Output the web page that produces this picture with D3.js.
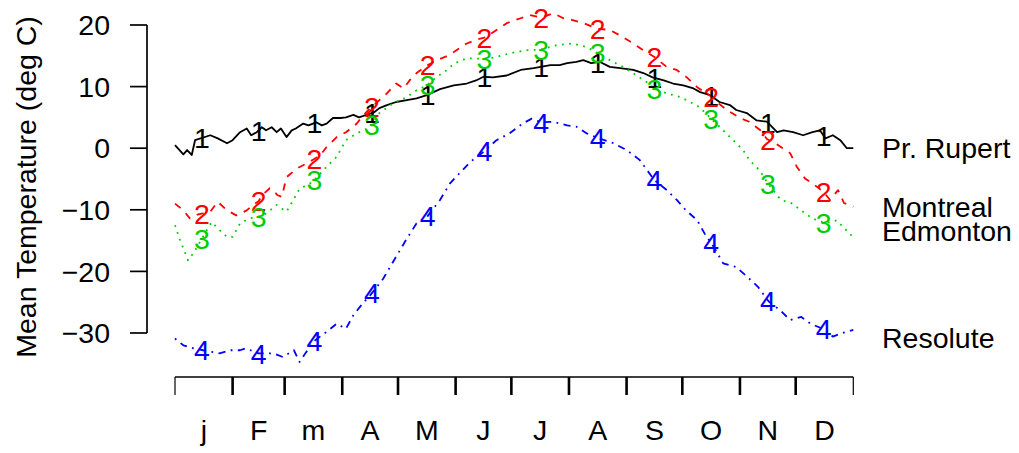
<!DOCTYPE html>
<html>
    <head>
        <title>Mean temperature</title>
        <meta charset="UTF-8">
        <script src="https://cdnjs.cloudflare.com/ajax/libs/d3/7.9.0/d3.min.js"></script>
        <style>
            html, body {
                margin: 0;
                padding: 0;
                background: #fff;
                font-family: 'Liberation Sans', Arial, Helvetica, sans-serif;
            }
        </style>
    </head>
    <body>
        <div class="chart"></div>
        <script>
            // values (day of year, deg C)
            var rupertDays = [0,4.5,6.5,9,10.8,19,23,28,31,35,38.6,41,44,46.7,49,52,54.7,57,60,62.8,65,69,71.8,76,79,81.6,85,89,92,96,99,103,107,110,114,119,124.7,130,135.5,142.6,150,157,162,166,171,178.5,186,193,202,207,211,216,219.7,224,228.7,234,239.5,246.6,252,257,263,268,273.5,279,282.6,288,293,298.6,302,307.7,313,318.5,324,327.5,332.6,338,343,347,350,354,358,361.5,365];
            var rupertTemp = [0.5,-1.0,-0.3,-1.1,1.3,2.1,1.6,0.8,1.3,2.6,3.2,2.1,2.6,3.4,2.9,3.4,2.6,3.2,1.8,2.9,3.2,4.0,3.7,4.2,3.7,4.0,4.9,4.9,5.0,5.4,5.0,5.4,5.8,6.5,7.0,7.5,7.8,8.1,8.6,9.6,10.2,10.5,11.0,11.6,11.5,11.8,12.7,13.0,13.5,13.5,13.8,14.0,14.3,13.8,14.0,13.2,13.0,12.7,12.2,11.5,11.0,10.5,10.2,9.7,9.1,8.6,7.5,7.0,6.2,5.7,4.5,4.3,2.6,2.9,2.6,2.1,2.6,2.9,1.6,2.1,1.3,0,0];

            var montrealDays = [0,4.5,8,12,15,19,23,28,33,38.6,42,45,47,51,53,55,57.5,60,65.5,70,74,78,81.6,87,92,97.8,101,105,110,114,119,123,127,130,135.5,141,146,150,157,162,167,173,178.5,186,191,197,203.6,209,214,220,227,234,239.5,246.6,252,258,264.6,270,275.4,281,288,292,297,304,309,315,318.5,323,327,331,334.6,339,343,346,349,352.5,356.8,360,365];
            var montrealTemp = [-9.0,-10.1,-11.4,-10.8,-10.6,-10.3,-8.7,-10.1,-10.9,-10.1,-9.2,-8.6,-7.6,-6.5,-6.8,-7.6,-7.9,-4.7,-3.3,-2.6,-1.9,-1.2,0.2,1.8,2.6,4.0,5.2,6.5,7.8,8.9,10.5,9.7,11.3,12.2,13.4,14.3,14.9,15.6,17.0,17.6,18.0,19.2,20.3,21.1,21.6,21.2,21.9,21.1,20.8,20.3,19.4,19.2,18.3,17.0,15.9,14.8,13.2,12.7,11.5,9.9,8.5,7.4,6.2,4.9,4.3,2.9,1.5,0.8,0,-0.8,-3.0,-4.9,-5.7,-6.4,-7.1,-8.4,-6.8,-8.9,-9.5];

            var edmontonDays = [0,2.7,7,10,15,19.7,24,28,31,35,40,45,49,54.7,60,63.7,67,74,81.6,87,92,97.8,105,110,117.5,124.7,130,135.5,141,146,150,157,167,173,180,189,197,205,214,221.6,227.7,234,241,248.5,254,258,264.6,272,279,282,288.5,295,302,305.7,309,314.6,319,326,331.6,337,343,350,356,359.6,365];
            var edmontonTemp = [-12.5,-14.9,-18.2,-17.0,-14.4,-12.0,-13.3,-14.4,-14.4,-12.2,-11.4,-11.1,-10.6,-9.2,-10.3,-8.4,-6.6,-5.5,-3.0,-1.4,1.3,2.4,3.4,5.7,7.3,8.3,9.4,10.2,11.6,12.6,13.7,14.6,14.5,14.8,15.4,15.9,16.0,16.7,17.0,16.4,15.4,14.3,13.2,11.8,10.7,9.7,8.9,8.3,7.2,6.7,4.8,2.9,0.8,-0.3,-1.9,-3.6,-5.7,-8.4,-8.9,-10.1,-11.4,-12.2,-11.7,-12.8,-14.5];

            var resoluteDays = [0,4.5,10,15,24,30,35,38,45,53,58,64,67,74.4,81.6,87,92,96,101,105,112,119,124.7,130,135.5,142.6,148,153,159,166,173,180,187,192,197,203.6,211,216,221.6,228,236,243,250,258,264.6,270,275,281,286,288.5,295,302,308,313.7,319.5,325.6,331,337,342,350,354,358,365];
            var resoluteTemp = [-30.9,-32.0,-32.5,-32.8,-33.3,-32.8,-32.8,-32.5,-33.3,-33.3,-33.9,-32.8,-34.7,-31.4,-29.8,-28.5,-29.3,-27.1,-25.2,-23.9,-21.2,-17.6,-14.7,-12.2,-11.2,-8.4,-5.7,-4.1,-2.2,-0.6,1.3,2.4,4.0,4.8,4.2,4.3,3.7,3.5,2.4,1.6,0.8,-0.3,-1.9,-5.2,-6.8,-8.4,-10.1,-11.7,-14.4,-15.3,-18.7,-19.3,-20.9,-22.5,-24.9,-26.3,-27.9,-27.4,-28.5,-29.5,-30.6,-30.1,-29.5];

            var stationNames = ['Pr. Rupert', 'Montreal', 'Edmonton', 'Resolute'];
            var stationMarks = ['1', '2', '3', '4'];
            var nameTemps = [0, -9.5, -13.4, -30.7];
            var markDays = [14.5, 45, 75, 106, 136, 166.5, 197, 227.5, 258, 288.5, 319, 349];

            var monthEnds = [0, 31, 59, 90, 120, 151, 181, 212, 243, 273, 304, 334, 365];
            var monthLetters = ['j', 'F', 'm', 'A', 'M', 'J', 'J', 'A', 'S', 'O', 'N', 'D'];
            var yTicks = [-30, -20, -10, 0, 10, 20];

            var series = [
                {days: rupertDays, temp: rupertTemp},
                {days: montrealDays, temp: montrealTemp},
                {days: edmontonDays, temp: edmontonTemp},
                {days: resoluteDays, temp: resoluteTemp},
            ];
            var colors = ['#000000', '#FF0000', '#00CD00', '#0000FF'];
            var dashes = [null, '7.2 7.2', '1.8 5.4', '1.8 5.4 7.2 5.4'];

            var w = 1019, h = 453;
            var fs = 28.5;

            var svg = d3.select('.chart').append('svg')
                    .attr('width', w)
                    .attr('height', h)
                    .style('display', 'block');

            var x = d3.scaleLinear().domain([0, 365]).range([175, 853.3]);
            var y = d3.scaleLinear().domain([-30, 20]).range([333, 25]);

            // y axis
            var ya = svg.append('g');
            ya.append('line')
                .attr('x1', 147).attr('x2', 147)
                .attr('y1', y(-30)).attr('y2', y(20))
                .attr('stroke', '#000').attr('stroke-width', 1.7);
            ya.selectAll('.yt').data(yTicks).enter().append('line')
                .attr('x1', 130).attr('x2', 147)
                .attr('y1', d => y(d)).attr('y2', d => y(d))
                .attr('stroke', '#000').attr('stroke-width', 1.7);
            ya.selectAll('.yl').data(yTicks).enter().append('text')
                .attr('x', 110)
                .attr('y', d => y(d))
                .attr('dy', '0.36em')
                .attr('text-anchor', 'end')
                .style('font-size', fs + 'px')
                .text(d => d < 0 ? '\u2212' + Math.abs(d) : d);
            svg.append('text')
                .attr('transform', 'translate(36,187) rotate(-90)')
                .attr('text-anchor', 'middle')
                .style('font-size', fs + 'px')
                .text('Mean Temperature (deg C)');

            // x axis
            var xa = svg.append('g');
            xa.append('line')
                .attr('x1', x(0)).attr('x2', x(365))
                .attr('y1', 377).attr('y2', 377)
                .attr('stroke', '#000').attr('stroke-width', 1.7);
            xa.selectAll('.xt').data(monthEnds).enter().append('line')
                .attr('x1', d => x(d)).attr('x2', d => x(d))
                .attr('y1', 377).attr('y2', 395)
                .attr('stroke', '#000')
                .attr('stroke-width', (d, i) => (i === 0 || i === monthEnds.length - 1) ? 1.2 : 2.6);
            xa.selectAll('.xl').data(monthLetters).enter().append('text')
                .attr('x', (d, i) => x((monthEnds[i] + monthEnds[i + 1]) / 2))
                .attr('y', 440)
                .attr('text-anchor', 'middle')
                .style('font-size', fs + 'px')
                .text(d => d);

            // lines
            var line = d3.line()
                    .curve(d3.curveLinear)
                    .x(d => x(d[0]))
                    .y(d => y(d[1]));

            var bis = d3.bisector(d => d).left;
            function valueAt(s, day){
                let i = bis(s.days, day);
                if(i <= 0) return s.temp[0];
                if(i >= s.days.length) return s.temp[s.temp.length - 1];
                let d0 = s.days[i - 1], d1 = s.days[i];
                let t = (day - d0) / (d1 - d0);
                return s.temp[i - 1] + t * (s.temp[i] - s.temp[i - 1]);
            }

            series.forEach(function(s, k){
                let pts = s.days.map((d, i) => [d, s.temp[i]]);
                let p = svg.append('path')
                    .datum(pts)
                    .attr('fill', 'none')
                    .attr('stroke', colors[k])
                    .attr('stroke-width', 1.8)
                    .attr('stroke-linejoin', 'round')
                    .attr('d', line);
                if(dashes[k]) p.attr('stroke-dasharray', dashes[k]);
            });

            series.forEach(function(s, k){
                svg.append('g').selectAll('text').data(markDays).enter().append('text')
                    .attr('x', d => x(d))
                    .attr('y', d => y(valueAt(s, d)))
                    .attr('dy', '0.36em')
                    .attr('text-anchor', 'middle')
                    .attr('fill', colors[k])
                    .style('font-size', fs + 'px')
                    .text(stationMarks[k]);
            });

            // station names on the right
            svg.append('g').selectAll('text').data(stationNames).enter().append('text')
                .attr('x', 882)
                .attr('y', (d, i) => y(nameTemps[i]))
                .attr('dy', '0.36em')
                .style('font-size', fs + 'px')
                .text(d => d);
        </script>
    </body>
</html>
